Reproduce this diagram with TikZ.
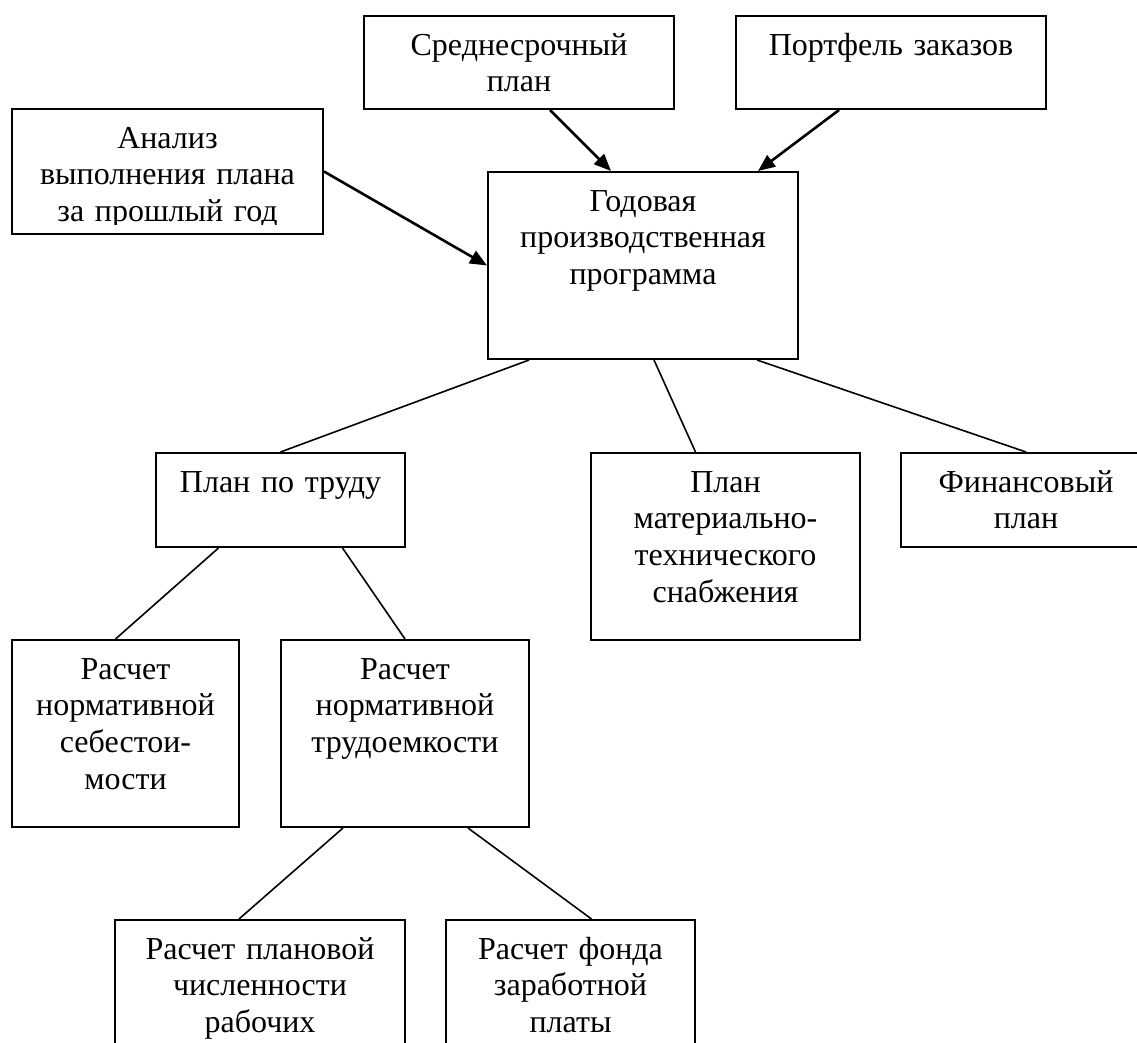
\documentclass[tikz,border=0pt]{standalone}
\usepackage{fontspec}
\setmainfont{Liberation Serif}
\usetikzlibrary{arrows.meta}
\tikzset{
	plannode/.style={
			draw=black,
			line width=2pt,
			fill=white,
			anchor=north west,
			inner sep=0pt
		},
	plantext/.style={
			anchor=base,
			align=center,
			text width=300pt,
			inner sep=0pt,
			yshift=-40pt,
			font=\fontsize{32}{36.8}\selectfont
		},
	arrowline/.style={
			line width=2.6pt,
			-{Triangle[length=17pt, width=14pt]}
		},
	treeline/.style={
			line width=1.6pt
		}
}

\begin{document}
\begin{tikzpicture}[x=1pt, y=-1pt]
\path[use as bounding box, fill=white] (0,0) rectangle (1137,1042);

% upper row
\node[plannode, minimum width=310pt, minimum height=93pt,
  label={[plantext]north:Среднесрочный\\план}] (bSred) at (363,15) {};
\node[plannode, minimum width=310pt, minimum height=93pt,
  label={[plantext]north:Портфель заказов}] (bPort) at (735,15) {};
\node[plannode, minimum width=311pt, minimum height=125pt] (bAnal) at (11,108) {};
\begin{scope}
\clip (bAnal.north west) rectangle ([yshift=11pt]bAnal.south east);
\node[plantext] (tAnal) at (bAnal.north) {Анализ\\выполнения плана\\за прошлый год};
\end{scope}
\node[plannode, minimum width=310pt, minimum height=187pt,
  label={[plantext]north:Годовая\\производственная\\программа}] (bGod) at (487,171) {};

% plans
\node[plannode, minimum width=249pt, minimum height=94pt,
  label={[plantext]north:План по труду}] (bTrud) at (155,452) {};
\node[plannode, minimum width=269pt, minimum height=187pt,
  label={[plantext]north:План\\материально-\\технического\\снабжения}] (bMts) at (590,452) {};
\node[plannode, minimum width=250pt, minimum height=94pt,
  label={[plantext]north:Финансовый\\план}] (bFin) at (900,452) {};

% calculations
\node[plannode, minimum width=227pt, minimum height=187pt,
  label={[plantext]north:Расчет\\нормативной\\себестои-\\мости}] (bSeb) at (11,639) {};
\node[plannode, minimum width=248pt, minimum height=187pt,
  label={[plantext]north:Расчет\\нормативной\\трудоемкости}] (bTrd) at (280,639) {};
\node[plannode, minimum width=290pt, minimum height=150pt,
  label={[plantext]north:Расчет плановой\\численности\\рабочих}] (bChis) at (114,919) {};
\node[plannode, minimum width=249pt, minimum height=150pt,
  label={[plantext]north:Расчет фонда\\заработной\\платы}] (bFond) at (445,919) {};

\draw[arrowline] ([xshift=31pt]bSred.south) -- ([xshift=-32pt]bGod.north);
\draw[arrowline] ([xshift=-52pt]bPort.south) -- ([xshift=115pt]bGod.north);
\draw[arrowline] (bAnal.east) -- (bGod.west);

\draw[treeline] ([xshift=-114pt]bGod.south) -- (bTrud.north);
\draw[treeline] ([xshift=11pt]bGod.south) -- ([xshift=-30pt]bMts.north);
\draw[treeline] ([xshift=114pt]bGod.south) -- (bFin.north);
\draw[treeline] ([xshift=-62pt]bTrud.south) -- ([xshift=-10pt]bSeb.north);
\draw[treeline] ([xshift=62pt]bTrud.south) -- (bTrd.north);
\draw[treeline] ([xshift=-62pt]bTrd.south) -- ([xshift=-21pt]bChis.north);
\draw[treeline] ([xshift=63pt]bTrd.south) -- ([xshift=21pt]bFond.north);
\end{tikzpicture}
\end{document}
